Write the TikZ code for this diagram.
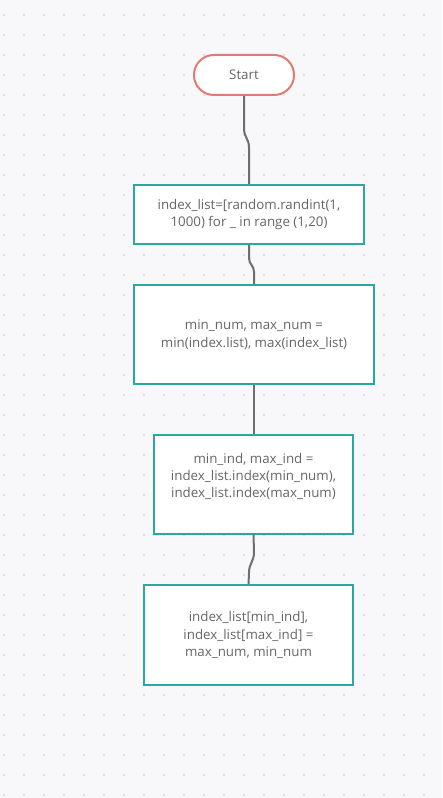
\documentclass[tikz,border=0pt]{standalone}
\usepackage{fontspec}
\setmainfont{Open Sans}
\definecolor{bgc}{HTML}{F8F8FB}
\definecolor{dotc}{HTML}{D6D6DE}
\definecolor{teal}{HTML}{2AA9A2}
\definecolor{startred}{HTML}{E07B73}
\definecolor{linec}{HTML}{6E6E72}
\definecolor{txt}{HTML}{666666}
\tikzset{
  procbox/.style={draw=teal, line width=1.5pt, fill=white, inner sep=2pt, align=center, text=txt, font=\fontsize{10}{13.1}\selectfont},
  startbox/.style={draw=startred, line width=1.5pt, fill=white, rounded corners=14.9pt, minimum width=75pt, minimum height=30pt, text=txt, font=\fontsize{10}{13.1}\selectfont},
  txtnode/.style={align=center, text=txt, font=\fontsize{10}{13.1}\selectfont, inner sep=0pt},
  conn/.style={draw=linec, line width=1.5pt}
}
\begin{document}
\begin{tikzpicture}[x=0.75pt,y=-0.75pt]
\fill[bgc] (0,0) rectangle (442,798);
\useasboundingbox (0,0) rectangle (442,798);
\foreach \i in {0,...,21}{
  \foreach \j in {0,...,39}{
    \fill[dotc] (4+20*\i,15+20*\j) circle (0.9pt);
  }
}
\node[startbox] (s) at (244,75) {Start};
\node[procbox, minimum width=172.5pt, minimum height=44.25pt] (b1) at (249,214.5) {index\_list=[random.randint(1,\\1000) for \_ in range (1,20)};
\node[procbox, minimum width=180pt, minimum height=74.25pt] (b2) at (254,334.5) {min\_num, max\_num =\\min(index.list), max(index\_list)};
\node[procbox, minimum width=149.25pt, minimum height=74.25pt] (b3) at (253.5,484.5) {};
\node[txtnode] (t3) at (253.5,476.5) {min\_ind, max\_ind =\\index\_list.index(min\_num),\\index\_list.index(max\_num)};
\node[procbox, minimum width=156.75pt, minimum height=75pt] (b4) at (248.5,635) {index\_list[min\_ind],\\index\_list[max\_ind] =\\max\_num, min\_num};
\coordinate (c1a) at (244,128);
\coordinate (c1b) at (249,148);
\coordinate (c2a) at (249,258);
\coordinate (c2b) at (254,272);
\coordinate (c4a) at (254,552);
\coordinate (c4b) at (249,573);
\draw[conn] (s.south) -- (c1a) .. controls (244,138) and (249,138) .. (c1b) -- (b1.north);
\draw[conn] (b1.south) -- (c2a) .. controls (249,265) and (254,265) .. (c2b) -- (b2.north);
\draw[conn] (b2.south) -- (b2.south |- b3.north);
\draw[conn] (b3.south) -- (c4a) .. controls (254,562) and (249,563) .. (c4b) -- (b4.north);
\end{tikzpicture}
\end{document}
